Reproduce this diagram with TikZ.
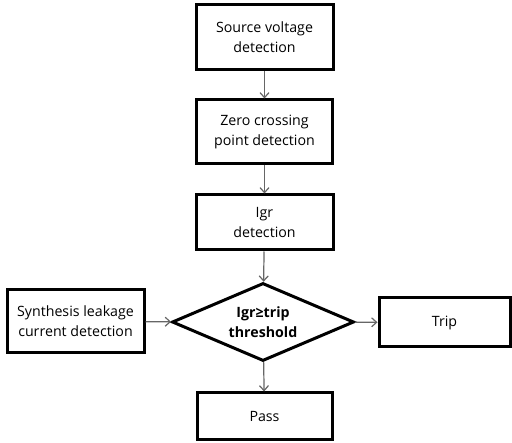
\documentclass[tikz,border=0pt]{standalone}
\usepackage{fontspec}
\setmainfont{Open Sans}
\usetikzlibrary{shapes.geometric,arrows.meta}
\begin{document}
\begin{tikzpicture}[x=1pt,y=-1pt,
  stepbox/.style={draw=black,line width=3pt,fill=white,inner sep=0pt,
    align=center,font=\fontsize{14.2}{20}\selectfont},
  decision/.style={draw=black,line width=3pt,diamond,inner sep=0pt,aspect=2.33,
    align=center,font=\bfseries\fontsize{14.2}{20}\selectfont},
  flow/.style={draw=black!60,line width=1.2pt,-{Straight Barb[length=5pt,width=9pt]}}]
\useasboundingbox (0,0) rectangle (512,443);
\node[stepbox,minimum width=137pt,minimum height=65pt] (src) at (264.5,37.5) {Source voltage\\detection};
\node[stepbox,minimum width=136pt,minimum height=64pt] (zero) at (264.5,132) {Zero crossing\\point detection};
\node[stepbox,minimum width=137pt,minimum height=55pt] (igr) at (264.5,222.5) {Igr\\detection};
\node[decision,minimum width=182pt,minimum height=78pt] (cmp) at (263,322) {Igr≥trip\\threshold};
\node[stepbox,minimum width=137pt,minimum height=63pt] (syn) at (75.5,321.5) {Synthesis leakage\\current detection};
\node[stepbox,minimum width=131pt,minimum height=49pt] (trip) at (444.5,322.5) {Trip};
\node[stepbox,minimum width=135pt,minimum height=47pt] (pass) at (264.5,416.5) {Pass};
\draw[flow] (src) -- (zero);
\draw[flow] (zero) -- (igr);
\draw[flow] (igr) -- (cmp);
\draw[flow] (syn) -- (cmp);
\draw[flow] (cmp) -- (trip);
\draw[flow] (cmp) -- (pass);
\end{tikzpicture}
\end{document}
